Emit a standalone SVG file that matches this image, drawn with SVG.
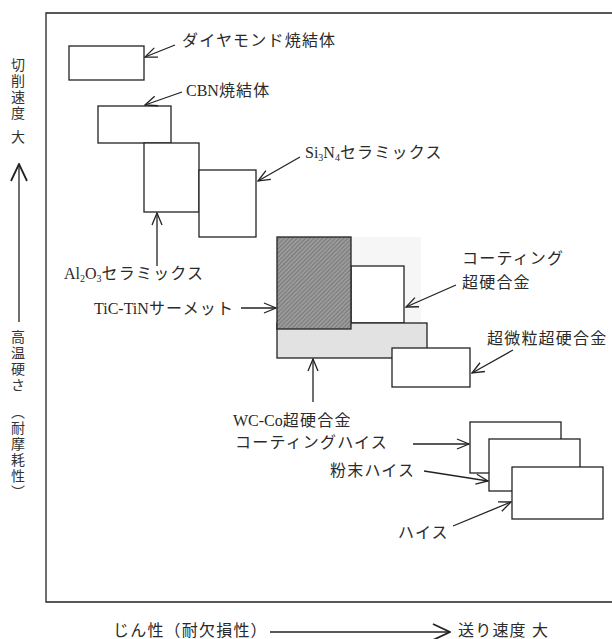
<svg xmlns="http://www.w3.org/2000/svg" width="612" height="639" viewBox="0 0 612 639">
<style>
.box{fill:#fff;stroke:#222;stroke-width:1.3}
.ln{fill:none;stroke:#222;stroke-width:1.3}
.t{font-family:"Liberation Serif","Noto Sans CJK JP",serif;font-size:16px;letter-spacing:1.2px;fill:#2a2a2a}
.lat{letter-spacing:0}
.v{font-family:"Noto Sans CJK JP",sans-serif;font-size:14px;letter-spacing:2px;fill:#333;writing-mode:vertical-rl}
</style>
<defs>
<marker id="ah" viewBox="0 0 14 12" refX="13" refY="6" markerWidth="14" markerHeight="12" orient="auto" markerUnits="userSpaceOnUse">
<path d="M1,1 L13,6 L1,11" fill="none" stroke="#222" stroke-width="1.3"/>
</marker>
<marker id="ahL" viewBox="0 0 20 18" refX="19" refY="9" markerWidth="20" markerHeight="18" orient="auto" markerUnits="userSpaceOnUse">
<path d="M2,1 L19,9 L2,17" fill="none" stroke="#222" stroke-width="1.8"/>
</marker>
<pattern id="hatch" width="3" height="3" patternUnits="userSpaceOnUse" patternTransform="rotate(45)">
<rect width="3" height="3" fill="#9a9a9a"/>
<line x1="0" y1="0" x2="0" y2="3" stroke="#5a5a5a" stroke-width="1"/>
</pattern>
</defs>

<g id="frame">
<path d="M612,13 H46 V602 H612" class="ln" stroke-width="1.5"/>
</g>

<g id="axis-y">
<text class="v" x="18" y="58">切削速度</text>
<text class="v" x="18" y="130">大</text>
<text class="v" x="18" y="330">高温硬さ</text>
<text class="v" x="18" y="405">（耐摩耗性）</text>
</g>

<g id="axis-x">
<text class="t" x="113" y="636">じん性（耐欠損性）</text>
<text class="t" x="458" y="636">送り速度 大</text>
</g>

<g id="diamond">
<rect class="box" x="69" y="46" width="75" height="34"/>
<text class="t" x="182" y="46">ダイヤモンド焼結体</text>
</g>
<g id="cbn">
<rect class="box" x="98" y="106" width="73" height="37"/>
<text class="t" x="186" y="96"><tspan class="lat">CBN</tspan>焼結体</text>
</g>
<g id="al2o3">
<rect class="box" x="144" y="143" width="55" height="69"/>
<text class="t" x="64" y="279"><tspan class="lat">Al</tspan><tspan class="lat" font-size="10" dy="3">2</tspan><tspan class="lat" dy="-3">O</tspan><tspan class="lat" font-size="10" dy="3">3</tspan><tspan dy="-3">セラミックス</tspan></text>
</g>
<g id="si3n4">
<rect class="box" x="199" y="170" width="57" height="67"/>
<text class="t" x="305" y="158"><tspan class="lat">Si</tspan><tspan class="lat" font-size="10" dy="3">3</tspan><tspan class="lat" dy="-3">N</tspan><tspan class="lat" font-size="10" dy="3">4</tspan><tspan dy="-3">セラミックス</tspan></text>
</g>

<g id="coating-carbide">
<rect x="351" y="237" width="70" height="86" fill="#f6f6f6"/>
<rect class="box" x="351" y="266" width="53" height="57"/>
<text class="t" x="462" y="264">コーティング</text>
<text class="t" x="462" y="288">超硬合金</text>
</g>
<g id="wc-co">
<rect class="box" x="277" y="323" width="150" height="35" style="fill:#e2e2e2"/>
<text class="t" x="233" y="426"><tspan class="lat">WC-Co</tspan>超硬合金</text>
<text class="t" x="235" y="448">コーティングハイス</text>
</g>
<g id="cermet">
<rect class="box" x="277" y="237" width="74" height="92" style="fill:url(#hatch)"/>
<text class="t" x="94" y="314"><tspan class="lat">TiC-TiN</tspan>サーメット</text>
</g>
<g id="ultrafine">
<rect class="box" x="392" y="348" width="78" height="39"/>
<text class="t" x="487" y="344">超微粒超硬合金</text>
</g>

<g id="hss-coated">
<rect class="box" x="470" y="422" width="91" height="51"/>
</g>
<g id="hss-powder">
<rect class="box" x="489" y="439" width="91" height="52"/>
<text class="t" x="330" y="476">粉末ハイス</text>
</g>
<g id="hss">
<rect class="box" x="512" y="467" width="91" height="52"/>
<text class="t" x="398" y="538">ハイス</text>
</g>

<g id="connectors">
<path class="ln" d="M19,322 L19,164" marker-end="url(#ahL)"/>
<path class="ln" d="M270,632 L450,632" stroke-width="1.5" marker-end="url(#ahL)"/>
<path class="ln" d="M175,45 L145,57" marker-end="url(#ah)"/>
<path class="ln" d="M182,92 L145,105" marker-end="url(#ah)"/>
<path class="ln" d="M300,157 L258,181" marker-end="url(#ah)"/>
<path class="ln" d="M157,266 L157,213" marker-end="url(#ah)"/>
<path class="ln" d="M241,308 L276,308" marker-end="url(#ah)"/>
<path class="ln" d="M456,285 L406,307" marker-end="url(#ah)"/>
<path class="ln" d="M513,350 L472,373" marker-end="url(#ah)"/>
<path class="ln" d="M313,402 L313,359" marker-end="url(#ah)"/>
<path class="ln" d="M413,444 L469,444" marker-end="url(#ah)"/>
<path class="ln" d="M424,471 L488,481" marker-end="url(#ah)"/>
<path class="ln" d="M453,526 L511,502" marker-end="url(#ah)"/>
</g>
</svg>
